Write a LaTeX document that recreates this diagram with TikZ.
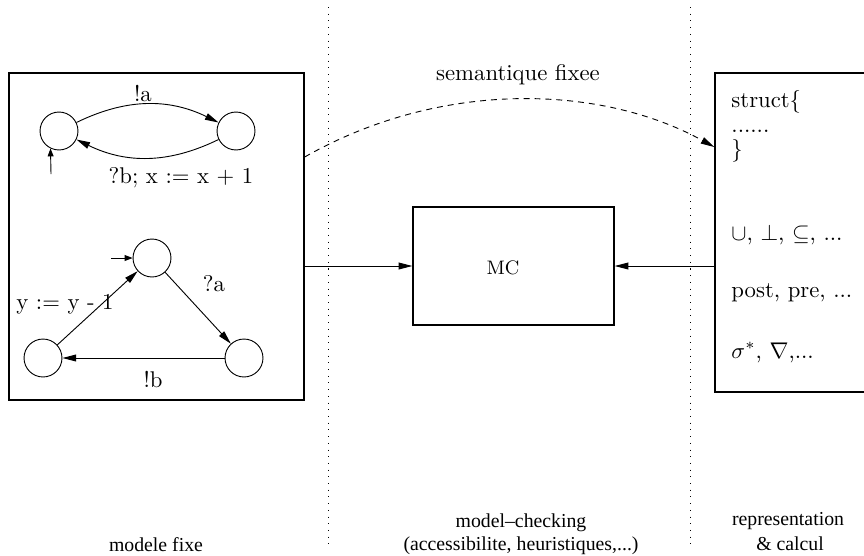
\documentclass[tikz,border=0pt]{standalone}
\usepackage{fontspec}
\newfontfamily\timesfont{Liberation Serif}
\usetikzlibrary{arrows.meta,fit,calc}
\begin{document}
\begin{tikzpicture}[x=0.44pt,y=-0.44pt,
  box/.style={draw, line width=0.6pt, inner sep=0pt},
  state/.style={circle, draw, line width=0.4pt, minimum size=16.7pt, inner sep=0pt},
  arr/.style={line width=0.4pt, -{Triangle[length=6pt,width=3pt]}},
  initarr/.style={line width=0.4pt, -{Triangle[length=3.5pt,width=2.6pt]}},
  dasharr/.style={line width=0.4pt, dash pattern=on 2.6pt off 2.2pt, -{Triangle[length=6pt,width=3pt]}},
  lbl/.style={inner sep=0pt, font=\fontsize{10}{12}\selectfont},
  rtxt/.style={inner sep=0pt, anchor=base west, font=\fontsize{10}{12}\selectfont},
  sepline/.style={line width=0.4pt, dash pattern=on 0.45pt off 2.5pt},
  foot/.style={inner sep=0pt, anchor=base, font=\timesfont\fontsize{8.7}{10.5}\selectfont},
  ]
\clip (0,0) rectangle (864,555);

% separators
\coordinate (s1t) at (328.5,7);
\coordinate (s1b) at (328.5,546);
\coordinate (s2t) at (690,7);
\coordinate (s2b) at (690,546);
\draw[sepline] (s1t) -- (s1b);
\draw[sepline] (s2t) -- (s2b);

% boxes
\node[box, fit={(9,73) (304,400)}] (lbox) {};
\node[box, fit={(413,207) (614,325)}] (mcbox) {};
\node[box, fit={(715,73) (890,392)}] (rbox) {};
\node[inner sep=0pt, font=\fontsize{8.6}{10}\selectfont] (mc) at (503,268) {MC};

% automaton 1
\node[state] (c1) at (59,131) {};
\node[state] (c2) at (236,131) {};
\draw[arr] (c1) to[bend left=26] (c2);
\draw[arr] (c2) to[bend left=26] (c1);
\coordinate (i1) at (51,174);
\draw[initarr] (i1) -- (c1.244);
\node[lbl] (la) at (143,93) {!a};
\node[lbl] (lb) at (181,178) {?b; x := x + 1};

% automaton 2
\node[state] (t1) at (152,258) {};
\node[state] (t2) at (244,358) {};
\node[state] (t3) at (43,358) {};
\coordinate (i2) at (111,258);
\draw[initarr] (i2) -- (t1.west);
\draw[arr] (t1) -- (t2);
\draw[arr] (t2) -- (t3);
\draw[arr] (t3) -- (t1);
\node[lbl] (qa) at (214,284) {?a};
\node[lbl] (eb) at (153,379) {!b};
\node[lbl] (yy) at (65,304) {y := y - 1};

% connectors
\draw[arr] (lbox.east |- mcbox.west) -- (mcbox.west);
\draw[arr] (rbox.west |- mcbox.east) -- (mcbox.east);
\draw[dasharr] (lbox.east |- {(0,157)}) .. controls (440,80) and (600,84) .. (rbox.west |- {(0,147)});
\node[lbl] (sem) at (518,75) {semantique fixee};

% right box text
\node[rtxt] (r1) at (731,107) {struct\{};
\node[rtxt] (r2) at (731,132) {......};
\node[rtxt] (r3) at (731,156) {\}};
\node[rtxt] (r4) at (731,240) {$\cup$, $\perp$, $\subseteq$, ...};
\node[rtxt] (r5) at (731,297) {post, pre, ...};
\node[rtxt] (r6) at (731,358) {$\sigma^*$, $\nabla$,...};

% footer
\node[foot] (f1) at (156,551) {modele fixe};
\node[foot] (f2) at (521,527) {model–checking};
\node[foot] (f3) at (521,550) {(accessibilite, heuristiques,...)};
\node[foot] (f4) at (788,525) {representation};
\node[foot] (f5) at (790,550) {\& calcul};
\end{tikzpicture}
\end{document}
